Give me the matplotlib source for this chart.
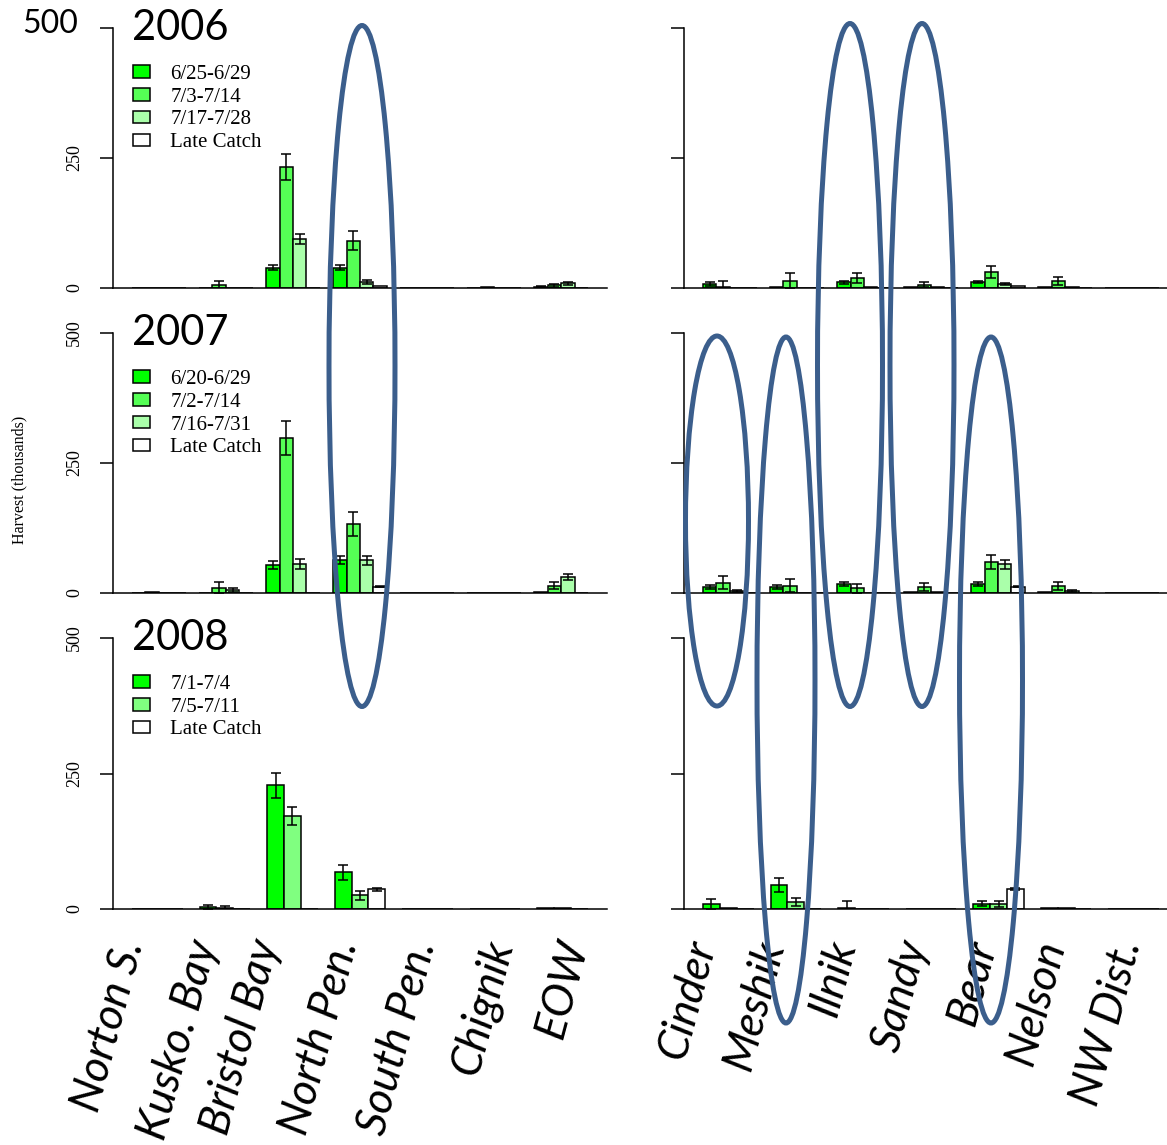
import matplotlib
matplotlib.use("Agg")
import matplotlib.pyplot as plt
from matplotlib.patches import Ellipse, Patch

# ---- data (harvest, thousands) ----
left_regions = ["Norton S.", "Kusko. Bay", "Bristol Bay", "North Pen.", "South Pen.", "Chignik", "EOW"]
right_regions = ["Cinder", "Meshik", "Ilnik", "Sandy", "Bear", "Nelson", "NW Dist."]

periods_2006 = ["6/25-6/29", "7/3-7/14", "7/17-7/28", "Late Catch"]
periods_2007 = ["6/20-6/29", "7/2-7/14", "7/16-7/31", "Late Catch"]
periods_2008 = ["7/1-7/4", "7/5-7/11", "Late Catch"]

# one row per period, one column per region
h2006_left = [[0, 0, 39, 39, 0, 0, 2],
              [0, 5, 233, 91, 0, 1, 5],
              [0, 0, 94, 12, 0, 0, 9],
              [0, 0, 0, 4.5, 0, 0, 0]]
e2006_left = [[0, 0, 5, 5, 0, 0, 1],
              [0, 9, 25, 18, 0, 0, 3],
              [0, 0, 9, 4, 0, 0, 3],
              [0, 0, 0, 0, 0, 0, 0]]
h2006_right = [[8, 2, 11, 2, 12, 1, 0],
               [1, 14, 19, 6, 31, 14, 0.5],
               [0, 0, 1, 1, 7, 1, 0],
               [0, 0, 0, 0, 4.5, 0, 0]]
e2006_right = [[4, 0, 3, 0, 2, 0, 0],
               [12, 15, 10, 5, 11, 8, 0],
               [0, 0, 0, 0, 2, 0, 0],
               [0, 0, 0, 0, 0, 0, 0]]

h2007_left = [[0, 0, 54, 64, 0, 0, 1],
              [1, 10, 298, 132, 0, 0, 14],
              [0, 6, 56, 63, 0, 0, 31],
              [0, 0, 0, 12, 0, 0, 0]]
e2007_left = [[0, 0, 7, 8, 0, 0, 0],
              [0, 11, 33, 23, 0, 0, 7],
              [0, 4, 10, 9, 0, 0, 6],
              [0, 0, 0, 1, 0, 0, 0]]
h2007_right = [[11, 12, 17, 2, 17, 2, 0],
               [20, 14, 9, 12, 60, 13, 0],
               [4, 0, 0, 1, 55, 3, 0],
               [0, 0, 0, 0, 12, 0, 0]]
e2007_right = [[4, 4, 4, 0, 4, 0, 0],
               [13, 13, 9, 8, 14, 8, 0],
               [2, 0, 0, 0, 8, 2, 0],
               [0, 0, 0, 0, 1, 0, 0]]

h2008_left = [[0, 4, 228, 68, 0, 0, 1],
              [0, 1, 172, 25, 0, 0, 2],
              [0, 0, 0, 36, 0, 0, 0]]
e2008_left = [[0, 4, 23, 14, 0, 0, 0],
              [0, 4, 17, 8, 0, 0, 0],
              [0, 0, 0, 3, 0, 0, 0]]
h2008_right = [[9, 45, 1, 0.5, 10, 1, 0],
               [1, 13, 0, 0, 9, 2, 0],
               [0, 0, 0, 0, 37, 0, 0]]
e2008_right = [[10, 13, 14, 0, 5, 0, 0],
               [0, 7, 0, 0, 5, 0, 0],
               [0, 0, 0, 0, 2, 0, 0]]

colors4 = ["#00ff00", "#55ff55", "#aaffaa", "white"]
colors3 = ["#00ff00", "#80ff80", "white"]

years = ["2006", "2007", "2008"]
panels = [
    (periods_2006, colors4, h2006_left, e2006_left, h2006_right, e2006_right),
    (periods_2007, colors4, h2007_left, e2007_left, h2007_right, e2007_right),
    (periods_2008, colors3, h2008_left, e2008_left, h2008_right, e2008_right),
]

# ---- layout (pixels) ----
W, H = 1167, 1145
row_top = [28, 333, 638]
row_bot = [288, 593, 909]
col_left = [113, 684]
ax_w = 494

def fx(x):
    return x / W

def fy(y):
    return 1 - y / H

serif = "Liberation Serif"
sans = "Lato"

fig = plt.figure(figsize=(W / 100, H / 100), dpi=100)

for r, (periods, cols, hl, el, hr, er) in enumerate(panels):
    nb = len(periods)
    step = nb + 1
    span = 7 * step - 1
    pad = 19 * span / 456
    for c, (heights, errs) in enumerate([(hl, el), (hr, er)]):
        ax = fig.add_axes([fx(col_left[c]), fy(row_bot[r]), fx(ax_w),
                           (row_bot[r] - row_top[r]) / H])
        for j in range(nb):
            xs = [g * step + j + 0.5 for g in range(7)]
            ax.bar(xs, heights[j], width=1, color=cols[j], edgecolor="black",
                   linewidth=1.1, zorder=2)
            ex = [x for x, e in zip(xs, errs[j]) if e > 0]
            ey = [h for h, e in zip(heights[j], errs[j]) if e > 0]
            ee = [e for e in errs[j] if e > 0]
            if ex:
                ax.errorbar(ex, ey, yerr=ee, fmt="none", ecolor="black",
                            elinewidth=1.1, capsize=3.3, capthick=1.1, zorder=3)
        ax.set_xlim(-pad, span + pad)
        ax.set_ylim(0, 500)
        ax.set_xticks([])
        ax.set_yticks([0, 250, 500])
        for s in ["top", "right"]:
            ax.spines[s].set_visible(False)
        for s in ["left", "bottom"]:
            ax.spines[s].set_linewidth(1.1)
        ax.tick_params(axis="y", direction="out", length=9.5, width=1.1, pad=12)
        if c == 0:
            labels = ["0", "250", "" if r == 0 else "500"]
            ax.set_yticklabels(labels, rotation=90, va="center",
                               family=serif, fontsize=13)
            handles = [Patch(facecolor=cl, edgecolor="black", linewidth=1.1)
                       for cl in cols]
            ax.legend(handles, periods, loc="upper left",
                      bbox_to_anchor=(fx(133), fy(row_top[r] + 37)),
                      bbox_transform=fig.transFigure, frameon=False,
                      prop={"family": serif, "size": 15},
                      handlelength=0.8, handleheight=0.55, handletextpad=1.0,
                      labelspacing=0.18, borderpad=0, borderaxespad=0)
        else:
            ax.set_yticklabels([])

    fig.text(fx(132), fy(row_top[r]), years[r], ha="left", va="center",
             family=sans, fontsize=30)

fig.text(fx(78), fy(24), "500", ha="right", va="center", family=sans, fontsize=23)
fig.text(fx(19), fy(480), "Harvest (thousands)", rotation=90, ha="center",
         va="center", family=serif, fontsize=11.5)

# x labels (placed under each group)
left_label_x = [144, 217, 279, 358, 436, 513, 588]
right_label_x = [715, 784, 856, 927, 996, 1065, 1141]
for names, xs in [(left_regions, left_label_x), (right_regions, right_label_x)]:
    for name, x in zip(names, xs):
        fig.text(fx(x), fy(944), name, rotation=75, rotation_mode="anchor",
                 ha="right", va="baseline", family=sans, style="italic",
                 fontsize=32)

# highlight ellipses (center x, center y, width, height in pixels)
ellipses = [(362, 366, 66, 681), (850, 365, 65, 683), (922, 365, 64, 683),
            (717, 521, 63, 370), (786, 680, 58, 686), (991, 680, 63, 686)]
for cx, cy, w, h in ellipses:
    fig.patches.append(Ellipse((fx(cx), fy(cy)), w / W, h / H,
                               transform=fig.transFigure, fill=False,
                               edgecolor="#3b5e8c", linewidth=3.6, zorder=10))

fig.savefig("out.png", dpi=100)
